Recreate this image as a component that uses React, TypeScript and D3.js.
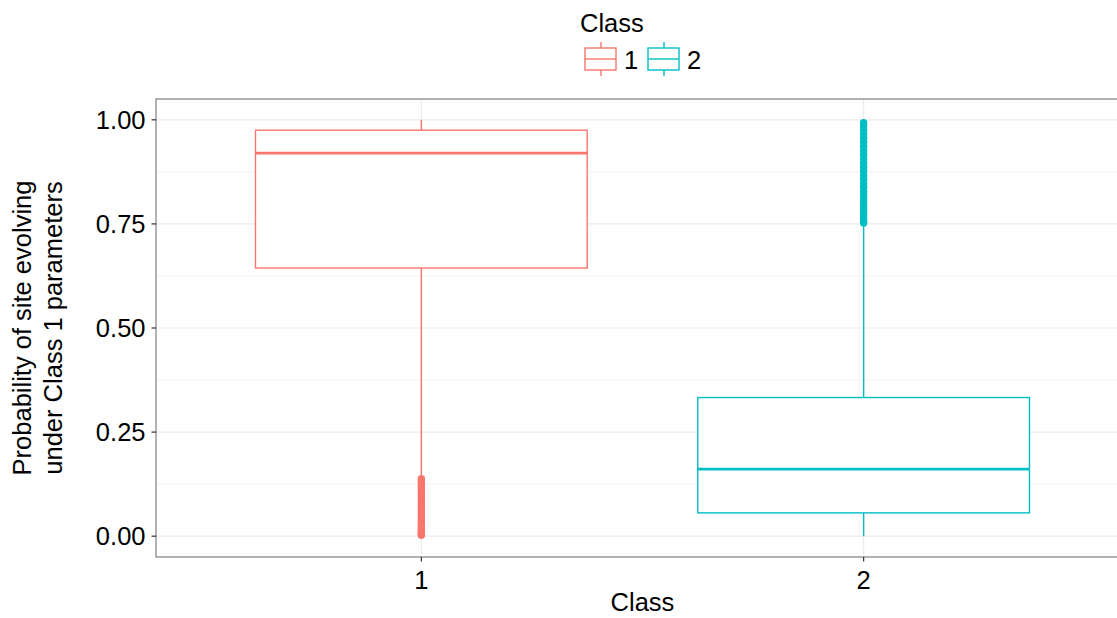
import React from "react";
import * as d3 from "d3";

// Box statistics per class
const classes = ["1", "2"];
const colors = ["#F8766D", "#00BFC4"];
const lowerWhisker = [0.146, 0.0];
const q1 = [0.644, 0.056];
const median = [0.92, 0.161];
const q3 = [0.975, 0.333];
const upperWhisker = [1.0, 0.748];

// Outlying points per class
const outliers1 = [
  0.002, 0.004, 0.007, 0.01, 0.013, 0.017, 0.021, 0.025, 0.03, 0.035, 0.041, 0.046,
  0.052, 0.058, 0.064, 0.07, 0.076, 0.082, 0.088, 0.094, 0.1, 0.106, 0.112, 0.118,
  0.124, 0.129, 0.134, 0.138,
];
const outliers2 = [
  0.752, 0.757, 0.763, 0.77, 0.777, 0.785, 0.793, 0.801, 0.81, 0.819, 0.828, 0.838,
  0.847, 0.857, 0.866, 0.876, 0.886, 0.896, 0.906, 0.916, 0.926, 0.936, 0.946, 0.956,
  0.966, 0.976, 0.985, 0.993,
];
const outliers = [outliers1, outliers2];

const yTicks = [0, 0.25, 0.5, 0.75, 1.0];
const yMinor = [0.125, 0.375, 0.625, 0.875];

const W = 1117;
const H = 618;
const panel = { left: 156, top: 99, right: 1129, bottom: 557 };
const FONT = "'Liberation Sans', Arial, Helvetica, sans-serif";
const FS = 25.5;

export default function App() {
  const x = d3.scaleLinear().domain([0.4, 2.6]).range([panel.left, panel.right]);
  const y = d3.scaleLinear().domain([-0.05, 1.05]).range([panel.bottom, panel.top]);
  const boxHalf = x(1.375) - x(1);
  const fmt = d3.format(".2f");
  const yMid = (panel.top + panel.bottom) / 2;
  const xMid = (panel.left + panel.right) / 2;

  return (
    <svg
      width={W}
      height={H}
      style={{ position: "absolute", left: 0, top: 0, background: "#fff" }}
      fontFamily={FONT}
    >
      <rect width={W} height={H} fill="#fff" />
      {/* grid */}
      <g>
        {yMinor.map((t) => (
          <line key={"mn" + t} x1={panel.left} x2={panel.right} y1={y(t)} y2={y(t)} stroke="#f4f4f4" strokeWidth={1} />
        ))}
        {yTicks.map((t) => (
          <line key={"mj" + t} x1={panel.left} x2={panel.right} y1={y(t)} y2={y(t)} stroke="#ebebeb" strokeWidth={1.2} />
        ))}
        {classes.map((c, i) => (
          <line key={"vx" + c} x1={x(i + 1)} x2={x(i + 1)} y1={panel.top} y2={panel.bottom} stroke="#ebebeb" strokeWidth={1.2} />
        ))}
      </g>

      {/* boxes */}
      {classes.map((c, i) => {
        const cx = x(i + 1);
        const col = colors[i];
        return (
          <g key={"box" + c}>
            <line x1={cx} x2={cx} y1={y(q3[i])} y2={y(upperWhisker[i])} stroke={col} strokeWidth={1.4} />
            <line x1={cx} x2={cx} y1={y(q1[i])} y2={y(lowerWhisker[i])} stroke={col} strokeWidth={1.4} />
            <rect
              x={cx - boxHalf}
              y={y(q3[i])}
              width={2 * boxHalf}
              height={y(q1[i]) - y(q3[i])}
              fill="#fff"
              stroke={col}
              strokeWidth={1.4}
            />
            <line x1={cx - boxHalf} x2={cx + boxHalf} y1={y(median[i])} y2={y(median[i])} stroke={col} strokeWidth={2.8} />
            {outliers[i].map((v, j) => (
              <circle key={j} cx={cx} cy={y(v)} r={3.7} fill={col} />
            ))}
          </g>
        );
      })}

      {/* panel border */}
      <rect
        x={panel.left}
        y={panel.top}
        width={panel.right - panel.left}
        height={panel.bottom - panel.top}
        fill="none"
        stroke="#7f7f7f"
        strokeWidth={1.2}
      />

      {/* y axis */}
      {yTicks.map((t) => (
        <g key={"yt" + t}>
          <line x1={panel.left - 4.5} x2={panel.left} y1={y(t)} y2={y(t)} stroke="#333" strokeWidth={1.2} />
          <text x={panel.left - 10.5} y={y(t)} dy="0.36em" textAnchor="end" fontSize={FS} fill="#000">
            {fmt(t)}
          </text>
        </g>
      ))}
      {/* x axis */}
      {classes.map((c, i) => (
        <g key={"xt" + c}>
          <line x1={x(i + 1)} x2={x(i + 1)} y1={panel.bottom} y2={panel.bottom + 4.5} stroke="#333" strokeWidth={1.2} />
          <text x={x(i + 1)} y={panel.bottom + 32} textAnchor="middle" fontSize={FS} fill="#000">
            {c}
          </text>
        </g>
      ))}

      {/* axis titles */}
      <text x={xMid} y={611} textAnchor="middle" fontSize={FS} fill="#000">
        Class
      </text>
      <g transform={`translate(31,${yMid}) rotate(-90)`}>
        <text x={0} y={0} textAnchor="middle" fontSize={FS} fill="#000">
          Probability of site evolving
        </text>
        <text x={0} y={31} textAnchor="middle" fontSize={FS} fill="#000">
          under Class 1 parameters
        </text>
      </g>

      {/* legend */}
      <g>
        <text x={580} y={32} fontSize={FS} fill="#000">
          Class
        </text>
        {classes.map((c, i) => {
          const kx = 585 + i * 63;
          const col = colors[i];
          return (
            <g key={"lg" + c}>
              <line x1={kx + 16} x2={kx + 16} y1={42} y2={48} stroke={col} strokeWidth={1.4} />
              <line x1={kx + 16} x2={kx + 16} y1={70} y2={76} stroke={col} strokeWidth={1.4} />
              <rect x={kx} y={48} width={31} height={22} fill="#fff" stroke={col} strokeWidth={1.4} />
              <line x1={kx} x2={kx + 31} y1={59} y2={59} stroke={col} strokeWidth={1.4} />
              <text x={kx + 39} y={68.5} fontSize={FS} fill="#000">
                {c}
              </text>
            </g>
          );
        })}
      </g>
    </svg>
  );
}
